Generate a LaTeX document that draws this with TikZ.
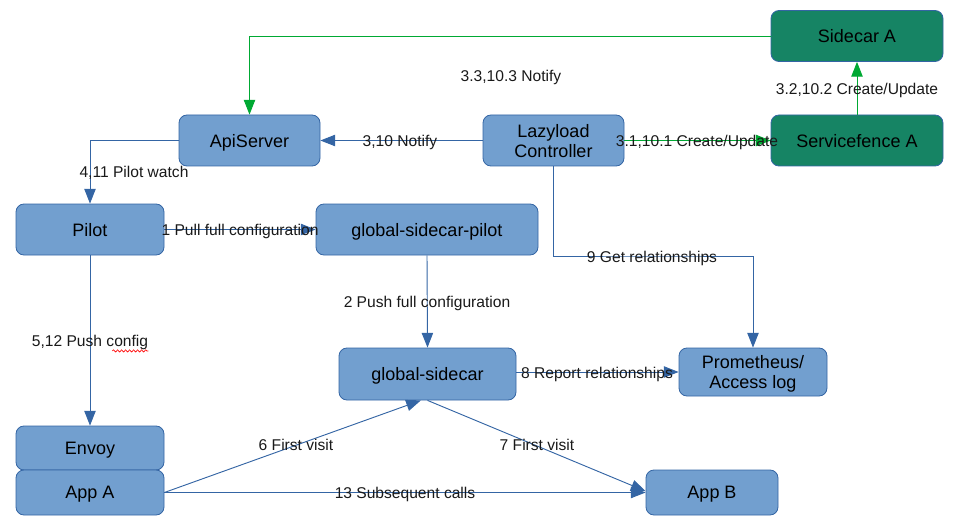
\documentclass[tikz,border=0pt]{standalone}
\usepackage{fontspec}
\setmainfont{Liberation Sans}
\usetikzlibrary{arrows.meta,calc,decorations.pathmorphing}
\definecolor{bfill}{HTML}{729FCF}
\definecolor{bdraw}{HTML}{3465A4}
\definecolor{gfill}{HTML}{168464}
\definecolor{garrow}{HTML}{00A933}
\tikzset{
  bbox/.style={draw=bdraw, fill=bfill, rounded corners=6pt, line width=0.6pt,
    font=\fontsize{13.5}{15}\selectfont, align=center, inner sep=0pt, text depth=0pt},
  gbox/.style={bbox, fill=gfill},
  conn/.style={draw=bdraw, line width=0.7pt, -{Triangle[length=11pt,width=8.5pt]}},
  gconn/.style={draw=garrow, line width=0.7pt, -{Triangle[length=11pt,width=8.5pt]}},
  lbl/.style={font=\fontsize{11.7}{13}\selectfont, inner sep=1pt, text=black!90, text depth=0pt, yshift=-0.75pt},
}
\begin{document}
\begin{tikzpicture}[x=0.75pt, y=-0.75pt]
\useasboundingbox (0,0) rectangle (958,528);
% nodes
\node[gbox, minimum width=129pt, minimum height=38.25pt] (sidecar) at (857,36) {Sidecar A};
\node[gbox, minimum width=129pt, minimum height=38.25pt] (sfence) at (857,140.5) {Servicefence A};
\node[bbox, minimum width=105.75pt, minimum height=38.25pt] (lazy) at (553.5,140.5) {Lazyload\\Controller};
\node[bbox, minimum width=105.75pt, minimum height=38.25pt] (api) at (249.5,140.5) {ApiServer};
\node[bbox, minimum width=111pt, minimum height=38.25pt] (pilot) at (90,229.5) {Pilot};
\node[bbox, minimum width=166.5pt, minimum height=38.25pt] (gsp) at (427,229.5) {global-sidecar-pilot};
\node[bbox, minimum width=132.75pt, minimum height=39pt] (gs) at (427.5,374) {global-sidecar};
\node[bbox, minimum width=111pt, minimum height=36pt] (prom) at (753,372) {Prometheus/\\Access log};
\node[bbox, minimum width=111pt, minimum height=33pt] (envoy) at (90,448) {Envoy};
\node[bbox, minimum width=111pt, minimum height=33.75pt] (appa) at (90,492.5) {App A};
\node[bbox, minimum width=99pt, minimum height=33.75pt] (appb) at (712,492.5) {App B};
\coordinate (c9) at (652,256);
% connectors
\draw[gconn] (sidecar.west) -| (api.north);
\draw[conn] (lazy.west) -- (api.east);
\draw[gconn] (lazy.east) -- (sfence.west);
\draw[gconn] (sfence.north) -- (sidecar.south);
\draw[conn] (api.west) -| (pilot.north);
\draw[conn] (pilot.east) -- (gsp.west);
\draw[conn] (gsp.south) -- (gs.north);
\draw[conn] (lazy.south) |- (c9) -| (prom.north);
\draw[conn] (pilot.south) -- (envoy.north);
\draw[conn] (gs.east |- prom.west) -- (prom.west);
\draw[conn] (appa.east) -- ([xshift=-5pt]gs.south);
\draw[conn] (gs.south) -- ([yshift=1pt]appb.west);
\draw[conn] (appa.east) -- (appb.west);
% labels
\node[lbl] (l310) at (400,140) {3,10 Notify};
\node[lbl] (l31) at (697,140) {3.1,10.1 Create/Update};
\node[lbl] (l32) at (857,88) {3.2,10.2 Create/Update};
\node[lbl] (l33) at (511,75) {3.3,10.3 Notify};
\node[lbl] (l411) at (134,171) {4,11 Pilot watch};
\node[lbl] (l1) at (240,229) {1 Pull full configuration};
\node[lbl] (l2) at (427,301) {2 Push full configuration};
\node[lbl] (l9) at (c9) {9 Get relationships};
\node[lbl] (l512) at (90,340) {5,12 Push config};
\node[lbl] (l8) at (597,372) {8 Report relationships};
\node[lbl] (l6) at (296,444) {6 First visit};
\node[lbl] (l7) at (537,444) {7 First visit};
\node[lbl] (l13) at (405,492) {13 Subsequent calls};
\draw[red, line width=0.5pt, decorate, decoration={snake, amplitude=0.8pt, segment length=3pt}]
  ([xshift=-28pt,yshift=-2pt]l512.south east) -- ([xshift=-1pt,yshift=-2pt]l512.south east);
\end{tikzpicture}
\end{document}
